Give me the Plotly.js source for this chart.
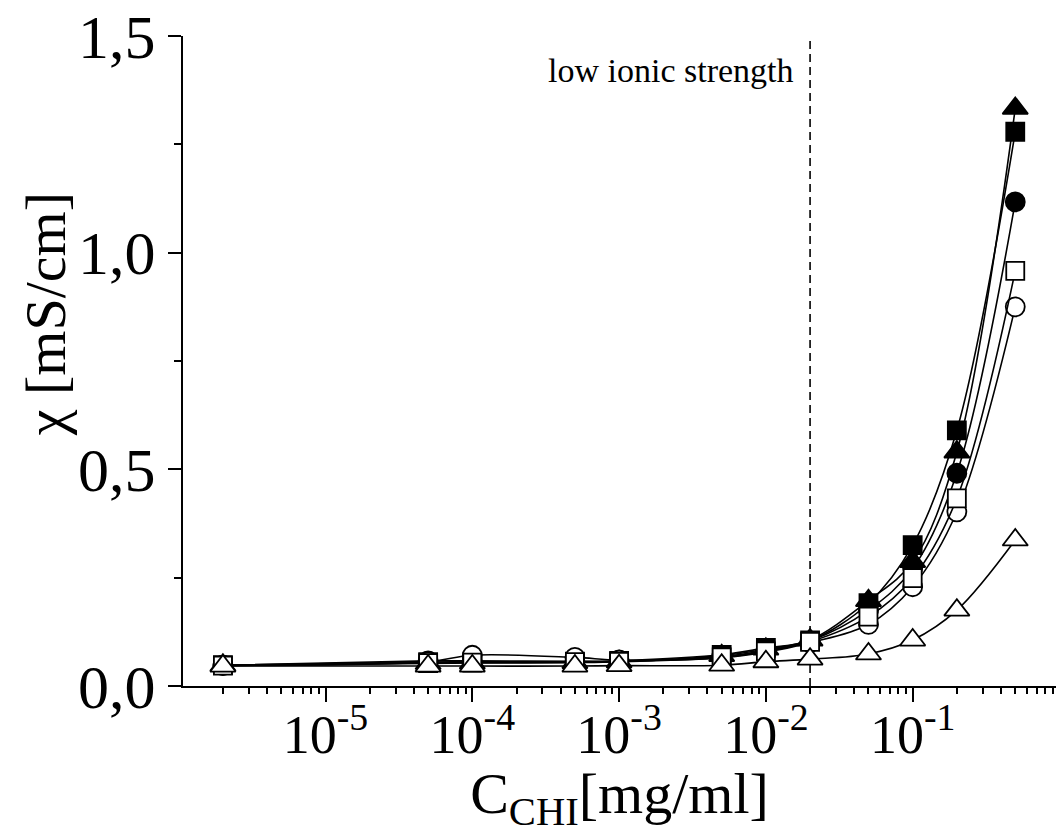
<!DOCTYPE html>
<html>
<head>
<meta charset="utf-8">
<script src="https://cdn.plot.ly/plotly-3.0.1.min.js"></script>
<style>
html,body{margin:0;padding:0;background:#fff;overflow:hidden;}
#chart{width:1056px;height:834px;}
</style>
</head>
<body>
<div id="chart"></div>
<script>
// concentration of chitosan [mg/ml]
const conc = [2e-6, 5e-5, 1e-4, 5e-4, 1e-3, 5e-3, 1e-2, 2e-2, 5e-2, 1e-1, 2e-1, 5e-1];
// conductivity [mS/cm] for six series
const filledCircle   = [0.048, 0.058, 0.058, 0.057, 0.057, 0.068, 0.082, 0.104, 0.175, 0.271, 0.491, 1.117];
const filledTriangle = [0.048, 0.052, 0.053, 0.054, 0.056, 0.070, 0.085, 0.106, 0.197, 0.287, 0.540, 1.333];
const filledSquare   = [0.048, 0.055, 0.056, 0.056, 0.058, 0.072, 0.088, 0.105, 0.191, 0.325, 0.590, 1.279];
const openCircle     = [0.047, 0.056, 0.071, 0.066, 0.060, 0.065, 0.078, 0.100, 0.142, 0.229, 0.402, 0.875];
const openSquare     = [0.047, 0.053, 0.054, 0.055, 0.056, 0.066, 0.080, 0.102, 0.160, 0.249, 0.433, 0.958];
const openTriangle   = [0.046, 0.046, 0.046, 0.046, 0.047, 0.048, 0.056, 0.062, 0.074, 0.106, 0.175, 0.337];
// tick labels
const xTickVals = [1e-5, 1e-4, 1e-3, 1e-2, 1e-1];
const xTickText = ['10<sup>-5</sup>', '10<sup>-4</sup>', '10<sup>-3</sup>', '10<sup>-2</sup>', '10<sup>-1</sup>'];
const lowIonicLimit = 0.02;
const yExtent = [0, 1.5];

const FONT = '"Liberation Serif", "Times New Roman", serif';

function series(name, y, symbol, filled, size) {
  return {
    type: 'scatter', mode: 'lines+markers', name: name,
    x: conc, y: y,
    line: {color: '#000', width: 1.6, shape: 'spline', smoothing: 1},
    marker: {
      symbol: symbol, size: size,
      color: filled ? '#000' : '#fff',
      line: {color: '#000', width: 1.8}
    },
    cliponaxis: false,
    showlegend: false
  };
}

const traces = [
  {type: 'scatter', mode: 'lines', x: [lowIonicLimit, lowIonicLimit], y: yExtent,
   line: {color: '#000', width: 1.6, dash: '8px,5px'}, showlegend: false, hoverinfo: 'skip'},
  series('filled circle', filledCircle, 'circle', true, 19),
  series('filled triangle', filledTriangle, 'triangle-up', true, 22),
  series('filled square', filledSquare, 'square', true, 18),
  series('open circle', openCircle, 'circle', false, 19),
  series('open square', openSquare, 'square', false, 18),
  series('open triangle', openTriangle, 'triangle-up', false, 22)
];

const layout = {
  width: 1056, height: 834,
  margin: {l: 183, r: 0, t: 36, b: 148, pad: 0},
  paper_bgcolor: '#fff', plot_bgcolor: '#fff',
  separators: ',.',
  font: {family: FONT, color: '#000'},
  showlegend: false,
  xaxis: {
    type: 'log',
    range: [-5.971, -0.0235],
    showline: true, linecolor: '#000', linewidth: 2,
    mirror: false,
    showgrid: false, zeroline: false,
    ticks: 'outside', ticklen: 14, tickwidth: 2, tickcolor: '#000',
    tickmode: 'array', tickvals: xTickVals, ticktext: xTickText,
    tickfont: {family: FONT, size: 54, color: '#000'},
    ticklabelstandoff: -14,
    minor: {ticks: 'outside', ticklen: 6, tickwidth: 2, tickcolor: '#000', dtick: 'D1', showgrid: false},
    title: {text: 'C<sub>CHI</sub>[mg/ml]', font: {family: FONT, size: 58, color: '#000'}, standoff: 8}
  },
  yaxis: {
    range: yExtent,
    showline: true, linecolor: '#000', linewidth: 2,
    showgrid: false, zeroline: false,
    ticks: 'outside', ticklen: 13, tickwidth: 2, tickcolor: '#000',
    dtick: 0.5, tick0: 0, tickformat: '.1f',
    tickfont: {family: FONT, size: 62, color: '#000'},
    minor: {ticks: 'outside', ticklen: 7, tickwidth: 2, tickcolor: '#000', dtick: 0.25, showgrid: false}
  },
  annotations: [
    {xref: 'x', yref: 'y', x: Math.log10(lowIonicLimit), y: 1.42,
     xanchor: 'right', yanchor: 'middle', xshift: -14, showarrow: false,
     text: 'low ionic strength', font: {family: FONT, size: 34, color: '#000'}},
    {xref: 'paper', yref: 'paper', x: -0.158, y: 0.572, xanchor: 'center', yanchor: 'middle',
     textangle: -90, showarrow: false,
     text: 'χ [mS/cm]', font: {family: FONT, size: 58, color: '#000'}}
  ]
};

Plotly.newPlot('chart', traces, layout, {staticPlot: true, displayModeBar: false});
</script>
</body>
</html>
